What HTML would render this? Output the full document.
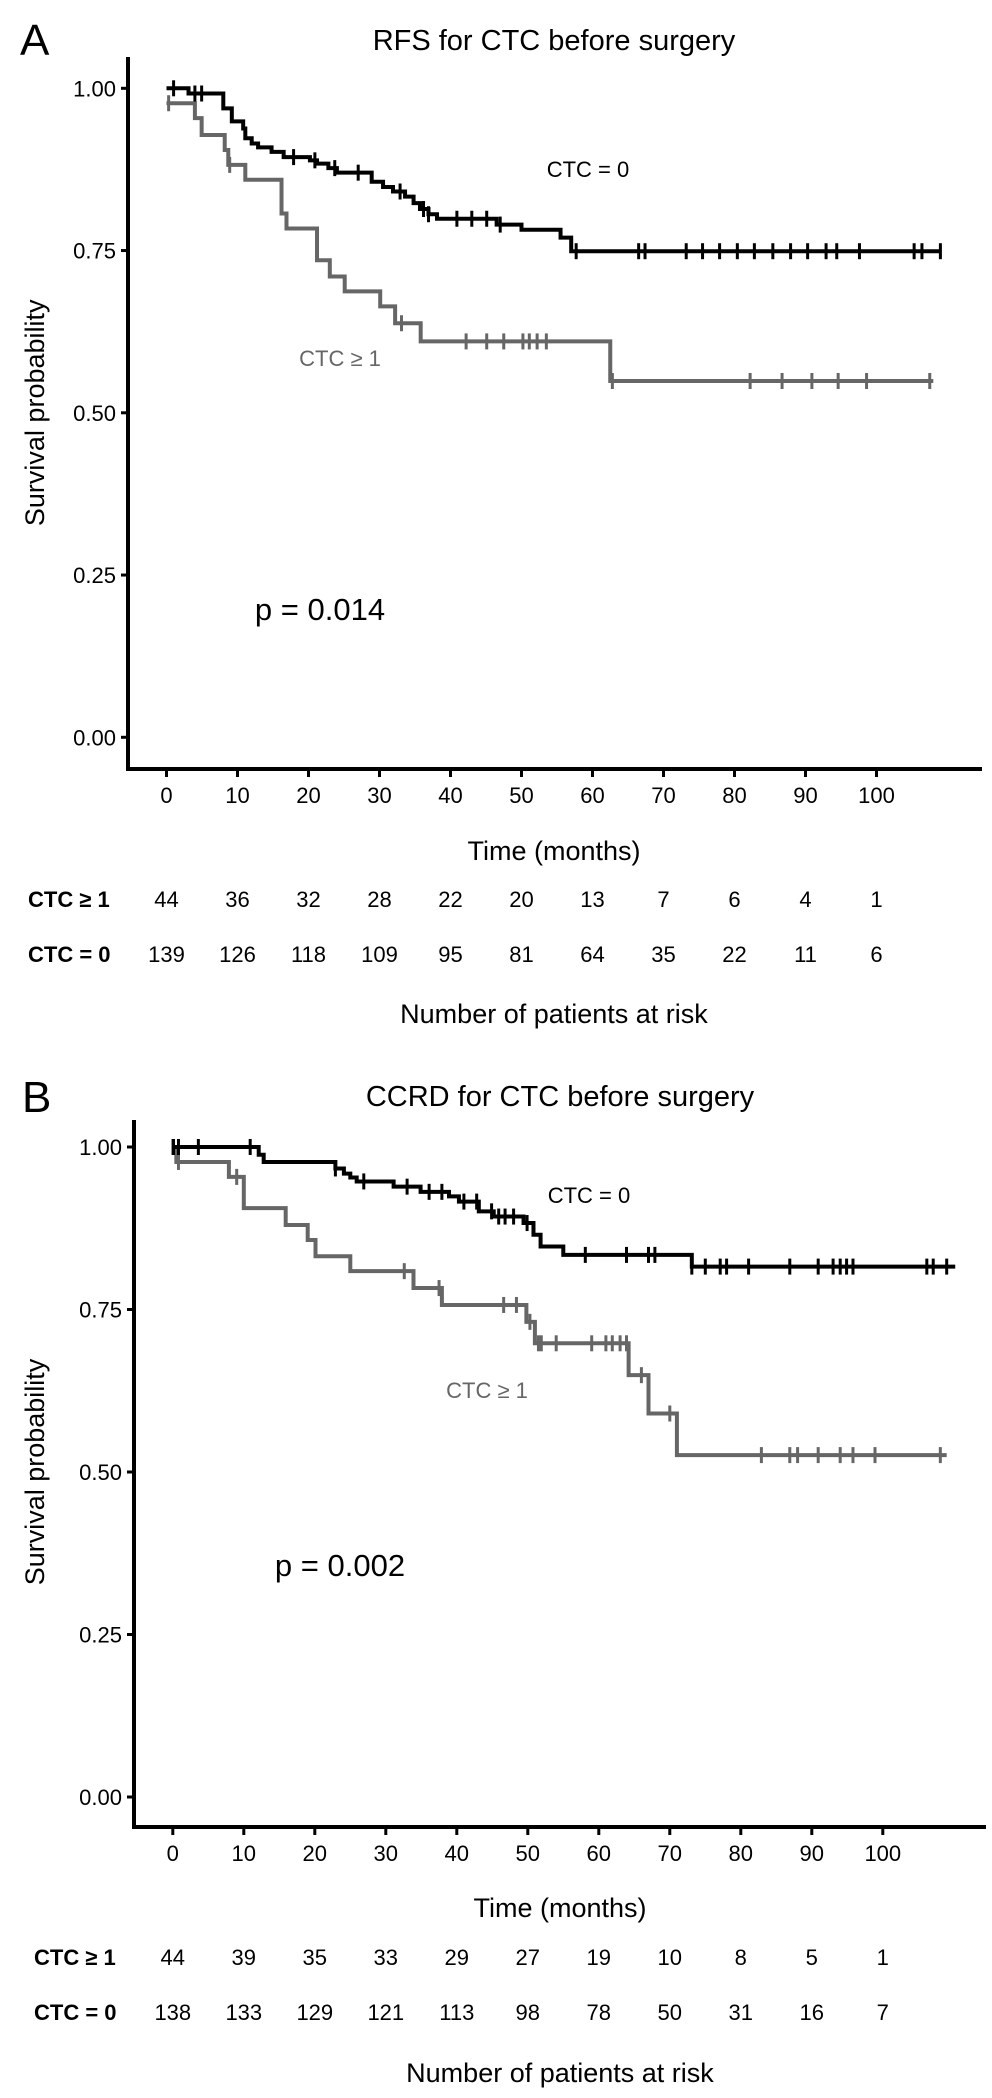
<!DOCTYPE html>
<html><head><meta charset="utf-8">
<style>
html,body{margin:0;padding:0;background:#fff;}
svg{display:block;font-family:"Liberation Sans",Arial,sans-serif;}
</style></head>
<body>
<svg id="fig" width="992" height="2098" viewBox="0 0 992 2098" xmlns="http://www.w3.org/2000/svg">
<rect width="992" height="2098" fill="#fff"/>
<text x="20" y="55" font-size="44">A</text>
<text x="554" y="50" font-size="29" text-anchor="middle">RFS for CTC before surgery</text>
<text x="22" y="1112" font-size="44">B</text>
<text x="560" y="1106" font-size="29" text-anchor="middle">CCRD for CTC before surgery</text>
<g id="gA"></g>
<g id="gB"></g>
</svg>
<script>
// ---- Panel A data ----
const ticksX = [0,10,20,30,40,50,60,70,80,90,100];
const ticksY = [0,0.25,0.5,0.75,1];
const aBlackT = [0,3.1,8.0,9.2,10.8,11.1,12.0,12.9,14.8,16.5,20.2,21.2,22.8,24.0,28.9,30.5,31.9,33.6,34.8,35.7,36.9,38.1,46.5,50,55.5,57,109];
const aBlackS = [1,0.992,0.969,0.949,0.938,0.923,0.915,0.909,0.902,0.894,0.889,0.884,0.877,0.870,0.856,0.848,0.841,0.833,0.823,0.814,0.806,0.799,0.79,0.782,0.77,0.749,0.749];
const aBlackCens = [1.0,4.0,4.95,17.9,20.9,23.7,27.0,32.9,36.2,36.9,40.9,43.0,45.1,47,57.7,66.5,67.4,73.2,75.5,77.9,80.4,82.8,85.4,87.9,90.3,92.9,94.4,97.6,105.3,106.4,109];
const aGrayT = [0,4.0,4.95,8.2,8.7,11.1,16.2,16.9,21.2,23.0,25.1,30.1,32.2,35.8,62.5,108];
const aGrayS = [0.977,0.954,0.928,0.905,0.882,0.859,0.807,0.784,0.735,0.710,0.687,0.664,0.638,0.61,0.549,0.549];
const aGrayCens = [0.3,8.9,33.1,42.2,45.1,47.5,50.2,51.1,52.2,53.5,62.8,82.2,86.7,90.9,94.6,98.6,107.5];
const aRiskPos = [44,36,32,28,22,20,13,7,6,4,1];
const aRiskNeg = [139,126,118,109,95,81,64,35,22,11,6];
// ---- Panel B data ----
const bBlackT = [0,12.1,12.8,22.9,24.1,25.0,25.9,31.1,34.9,38.9,40.3,43.1,45.2,49.4,50.8,51.8,55.0,73.1,110.2];
const bBlackS = [1,0.988,0.977,0.967,0.959,0.953,0.947,0.939,0.931,0.924,0.916,0.901,0.893,0.883,0.865,0.847,0.834,0.816,0.816];
const bBlackCens = [0.1,0.8,3.6,10.9,22.9,26.9,33.0,36.1,37.9,41.0,42.8,44.9,45.9,46.8,48.0,49.9,58.1,63.9,67.0,67.9,73.1,75.0,77.1,78.0,81.1,86.9,90.9,93.0,94.0,94.9,95.8,106.2,107.1,109.0];
const bGrayT = [0,0.5,7.9,10.0,15.9,19.0,20.1,25.0,33.9,37.9,49.8,51.0,64.2,67.0,71.0,109];
const bGrayS = [1,0.977,0.954,0.906,0.880,0.857,0.832,0.809,0.783,0.757,0.731,0.698,0.649,0.590,0.526,0.526];
const bGrayCens = [0,0.8,9.0,32.6,37.5,46.6,48.4,50.3,51.5,51.9,54.0,59.0,61.0,61.9,63.0,63.9,66.0,70.0,82.9,86.9,88.0,90.9,94.0,95.8,98.9,108.1];
const bRiskPos = [44,39,35,33,29,27,19,10,8,5,1];
const bRiskNeg = [138,133,129,121,113,98,78,50,31,16,7];

const NS = "http://www.w3.org/2000/svg";
function mk(parent, tag, attrs, text){
  const e = document.createElementNS(NS, tag);
  for (const k in attrs) e.setAttribute(k, attrs[k]);
  if (text !== undefined) e.textContent = text;
  parent.appendChild(e);
  return e;
}
function stepPath(T,S,x,y){
  let d = "M"+x(T[0])+","+y(S[0]);
  for (let i=1;i<T.length;i++){ d += " H"+x(T[i])+" V"+y(S[i]); }
  return d;
}
function valueAt(T,S,t){ let v=S[0]; for(let i=0;i<T.length;i++){ if(T[i]<=t) v=S[i]; } return v; }

function panel(g, cfg){
  const x = t => cfg.x0 + t*cfg.px;
  const y = s => cfg.y0 - s*cfg.py;
  // axes
  const ya = mk(g,"line",{x1:cfg.ax,y1:cfg.axTop,x2:cfg.ax,y2:cfg.axBot+2,stroke:"#000","stroke-width":4});
  
  
  const xa = mk(g,"line",{x1:cfg.ax-2,y1:cfg.axBot,x2:cfg.axRight,y2:cfg.axBot,stroke:"#000","stroke-width":4});
  
  
  ticksY.forEach(v=>{
    const tk = mk(g,"line",{x1:cfg.ax-7,y1:y(v),x2:cfg.ax,y2:y(v),stroke:"#000","stroke-width":3});
    
    
    const lb = mk(g,"text",{x:cfg.ax-12,y:y(v)+8,"font-size":22,"text-anchor":"end"},v.toFixed(2));
    
    
  });
  ticksX.forEach(v=>{
    const tk = mk(g,"line",{x1:x(v),y1:cfg.axBot,x2:x(v),y2:cfg.axBot+8,stroke:"#000","stroke-width":3});
    
    
    const lb = mk(g,"text",{x:x(v),y:cfg.axBot+34,"font-size":22,"text-anchor":"middle"},String(v));
    
    
  });
  const yt = mk(g,"text",{x:0,y:0,"font-size":27,"text-anchor":"middle",transform:"translate("+cfg.ytX+","+((y(0)+y(1))/2)+") rotate(-90)"},"Survival probability");
  
  
  const xt = mk(g,"text",{x:cfg.midX,y:cfg.timeY,"font-size":27,"text-anchor":"middle"},"Time (months)");
  
  
  // curves
  const series = [
    {T:cfg.gT,S:cfg.gS,C:cfg.gC,col:"#666666",name:"ctc-positive"},
    {T:cfg.bT,S:cfg.bS,C:cfg.bC,col:"#000000",name:"ctc-zero"}
  ];
  series.forEach(sr=>{
    const p = mk(g,"path",{d:stepPath(sr.T,sr.S,x,y),fill:"none",stroke:sr.col,"stroke-width":4});
    
    
    sr.C.forEach(t=>{
      const yy = y(valueAt(sr.T,sr.S,t));
      const c = mk(g,"line",{x1:x(t),y1:yy-8,x2:x(t),y2:yy+8,stroke:sr.col,"stroke-width":3});
      
      
    });
  });
  const l0 = mk(g,"text",{x:cfg.lab0[0],y:cfg.lab0[1],"font-size":22,"text-anchor":"middle",fill:"#000"},"CTC = 0");
  
  
  const l1 = mk(g,"text",{x:cfg.lab1[0],y:cfg.lab1[1],"font-size":22,"text-anchor":"middle",fill:"#666"},"CTC \u2265 1");
  
  
  const pv = mk(g,"text",{x:cfg.pv[0],y:cfg.pv[1],"font-size":31,"text-anchor":"middle"},cfg.pText);
  
  
  // risk table
  const r1 = mk(g,"text",{x:cfg.riskLX,y:cfg.r1+8,"font-size":22,"font-weight":"bold"},"CTC \u2265 1");
  
  
  const r2 = mk(g,"text",{x:cfg.riskLX,y:cfg.r2+8,"font-size":22,"font-weight":"bold"},"CTC = 0");
  
  
  ticksX.forEach((v,i)=>{
    const a = mk(g,"text",{x:x(v),y:cfg.r1+8,"font-size":22,"text-anchor":"middle"},String(cfg.rP[i]));
    
    
    const b = mk(g,"text",{x:x(v),y:cfg.r2+8,"font-size":22,"text-anchor":"middle"},String(cfg.rN[i]));
    
    
  });
  const nr = mk(g,"text",{x:cfg.midX,y:cfg.nrY,"font-size":27,"text-anchor":"middle"},"Number of patients at risk");
  
  
}

panel(document.getElementById("gA"),{
  x0:166.5,px:7.1,y0:737.3,py:649,ax:128,axTop:57,axBot:769,axRight:982,ytX:44,
  midX:554,timeY:860,r1:899,r2:954,nrY:1023,riskLX:28,
  bT:aBlackT,bS:aBlackS,bC:aBlackCens,gT:aGrayT,gS:aGrayS,gC:aGrayCens,
  rP:aRiskPos,rN:aRiskNeg,lab0:[588,177],lab1:[340,366],pv:[320,620],pText:"p = 0.014"
});
panel(document.getElementById("gB"),{
  x0:172.8,px:7.1,y0:1797,py:650,ax:134,axTop:1120,axBot:1827,axRight:986,ytX:44,
  midX:560,timeY:1917,r1:1957,r2:2012,nrY:2082,riskLX:34,
  bT:bBlackT,bS:bBlackS,bC:bBlackCens,gT:bGrayT,gS:bGrayS,gC:bGrayCens,
  rP:bRiskPos,rN:bRiskNeg,lab0:[589,1203],lab1:[487,1398],pv:[340,1576],pText:"p = 0.002"
});
</script>
</body></html>
